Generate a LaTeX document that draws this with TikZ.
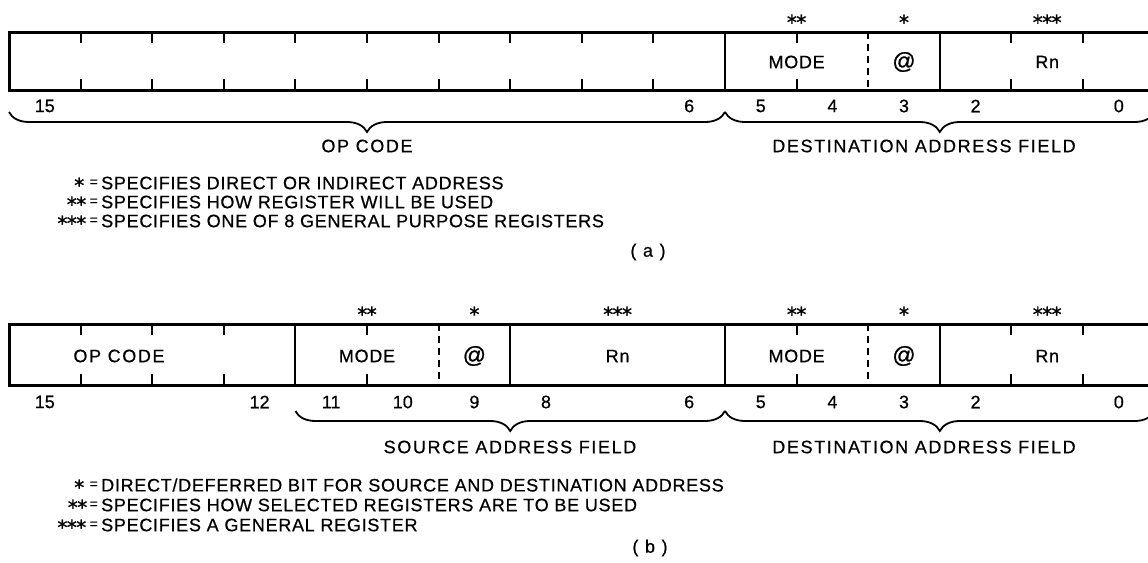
\documentclass[tikz,border=0pt]{standalone}
\usepackage{fontspec}
\setmainfont{Liberation Sans}
\newfontfamily\symf{DejaVu Sans}
\usetikzlibrary{decorations.pathreplacing}
\tikzset{
  lbl/.style={font=\fontsize{18}{20}\selectfont\addfontfeature{LetterSpace=4,FakeBold=0.6}, inner sep=0pt},
  wlbl/.style={font=\fontsize{18}{20}\selectfont\addfontfeature{LetterSpace=9,FakeBold=0.6}, inner sep=0pt},
  num/.style={font=\fontsize{18}{20}\selectfont\addfontfeature{FakeBold=0.6}, inner sep=0pt},
  atsign/.style={font=\fontsize{23}{25}\selectfont\addfontfeature{FakeBold=0.8}, inner sep=0pt},
  stars/.style={font=\symf\fontsize{20}{20}\selectfont\addfontfeature{FakeBold=1.2,LetterSpace=-3}, inner sep=0pt},
  eqs/.style={font=\fontsize{14}{14}\selectfont\addfontfeature{FakeBold=0.4}, inner sep=0pt},
  outer/.style={line width=3pt},
  divline/.style={line width=2pt},
  dline/.style={line width=2pt, dash pattern=on 7pt off 5pt},
  tickline/.style={line width=2pt},
  fbrace/.style={decorate, decoration={brace, mirror, amplitude=20pt}, line width=1.8pt},
}
\begin{document}
\begin{tikzpicture}[x=1pt,y=-1pt]
\useasboundingbox (0,0) rectangle (1148,562);
% ================= (a) =================
\draw[outer] (9,32) rectangle (1154.6,90);
\foreach \x in {80.6,152.2,223.8,295.4,367,438.6,510.2,581.8,653.4,796.6,1011.4,1083}{
  \draw[tickline] (\x,32) -- (\x,43);
  \draw[tickline] (\x,90) -- (\x,79);
}
\draw[divline] (725,32) -- (725,90);
\draw[divline] (939.8,32) -- (939.8,90);
\draw[dline] (868.2,32) -- (868.2,90);
\node[lbl] (amode) at (796.6,62) {MODE};
\node[atsign] (aat) at (904,62) {@};
\node[lbl] (arn) at (1047.2,62) {Rn};
\node[stars] (as2) at (796.6,22) {**};
\node[stars] (as1) at (904,22) {*};
\node[stars] (as3) at (1047.2,22) {***};
\foreach \n/\x in {15/44.8,6/689.2,5/760.8,4/832.4,3/904,2/975.6,0/1118.8}{
  \node[num] (an\n) at (\x,106) {\n};
}
\coordinate (aopL) at (9,112);
\coordinate (aopR) at (725,112);
\coordinate (adR) at (1154.6,112);
\draw[fbrace] (aopL) -- (aopR);
\draw[fbrace] (aopR) -- (adR);
\node[wlbl] (aop) at (367,146) {OP CODE};
\node[wlbl] (adst) at (924,146) {DESTINATION ADDRESS FIELD};
\node[eqs,anchor=east] (la1e) at (98,183) {=};
\node[stars,anchor=east] (la1k) at ([xshift=-5pt,yshift=-2pt]la1e.west) {*};
\node[lbl,anchor=west] (la1t) at (101,183) {SPECIFIES DIRECT OR INDIRECT ADDRESS};
\node[eqs,anchor=east] (la2e) at (98,202) {=};
\node[stars,anchor=east] (la2k) at ([xshift=-3pt,yshift=-2pt]la2e.west) {**};
\node[lbl,anchor=west] (la2t) at (101,202) {SPECIFIES HOW REGISTER WILL BE USED};
\node[eqs,anchor=east] (la3e) at (98,221) {=};
\node[stars,anchor=east] (la3k) at ([xshift=-3pt,yshift=-2pt]la3e.west) {***};
\node[lbl,anchor=west] (la3t) at (101,221) {SPECIFIES ONE OF 8 GENERAL PURPOSE REGISTERS};
\node[wlbl] (capa) at (648,252) {( a )};
% ================= (b) =================
\draw[outer] (9,324) rectangle (1154.6,385);
\foreach \x in {80.6,152.2,223.8,367,796.6,1011.4,1083}{
  \draw[tickline] (\x,324) -- (\x,335);
  \draw[tickline] (\x,385) -- (\x,374);
}
\foreach \x in {295.4,510.2,725,939.8}{
  \draw[divline] (\x,324) -- (\x,385);
}
\draw[dline] (438.6,324) -- (438.6,385);
\draw[dline] (868.2,324) -- (868.2,385);
\node[wlbl] (bop) at (119,356) {OP CODE};
\node[lbl] (bsmode) at (367,356) {MODE};
\node[atsign] (bsat) at (474.4,356) {@};
\node[lbl] (bsrn) at (617.6,356) {Rn};
\node[lbl] (bdmode) at (796.6,356) {MODE};
\node[atsign] (bdat) at (904,356) {@};
\node[lbl] (bdrn) at (1047.2,356) {Rn};
\node[stars] (bs2) at (367,314) {**};
\node[stars] (bs1) at (474.4,314) {*};
\node[stars] (bs3) at (617.6,314) {***};
\node[stars] (bd2) at (796.6,314) {**};
\node[stars] (bd1) at (904,314) {*};
\node[stars] (bd3) at (1047.2,314) {***};
\foreach \n/\x in {15/44.8,12/259.6,11/331.2,10/402.8,9/474.4,8/546,6/689.2,5/760.8,4/832.4,3/904,2/975.6,0/1118.8}{
  \node[num] (bn\n) at (\x,402) {\n};
}
\coordinate (bsL) at (295.4,411);
\coordinate (bsR) at (725,411);
\coordinate (bdR) at (1154.6,411);
\draw[fbrace] (bsL) -- (bsR);
\draw[fbrace] (bsR) -- (bdR);
\node[wlbl] (bsrc) at (510,447) {SOURCE ADDRESS FIELD};
\node[wlbl] (bdst) at (924,447) {DESTINATION ADDRESS FIELD};
\node[eqs,anchor=east] (lb1e) at (98,485) {=};
\node[stars,anchor=east] (lb1k) at ([xshift=-5pt,yshift=-2pt]lb1e.west) {*};
\node[lbl,anchor=west] (lb1t) at (101,485) {DIRECT/DEFERRED BIT FOR SOURCE AND DESTINATION ADDRESS};
\node[eqs,anchor=east] (lb2e) at (98,505) {=};
\node[stars,anchor=east] (lb2k) at ([xshift=-2pt,yshift=-2pt]lb2e.west) {**};
\node[lbl,anchor=west] (lb2t) at (101,505) {SPECIFIES HOW SELECTED REGISTERS ARE TO BE USED};
\node[eqs,anchor=east] (lb3e) at (98,525) {=};
\node[stars,anchor=east] (lb3k) at ([xshift=-3pt,yshift=-2pt]lb3e.west) {***};
\node[lbl,anchor=west] (lb3t) at (101,525) {SPECIFIES A GENERAL REGISTER};
\node[wlbl] (capb) at (650,548) {( b )};
\end{tikzpicture}
\end{document}
